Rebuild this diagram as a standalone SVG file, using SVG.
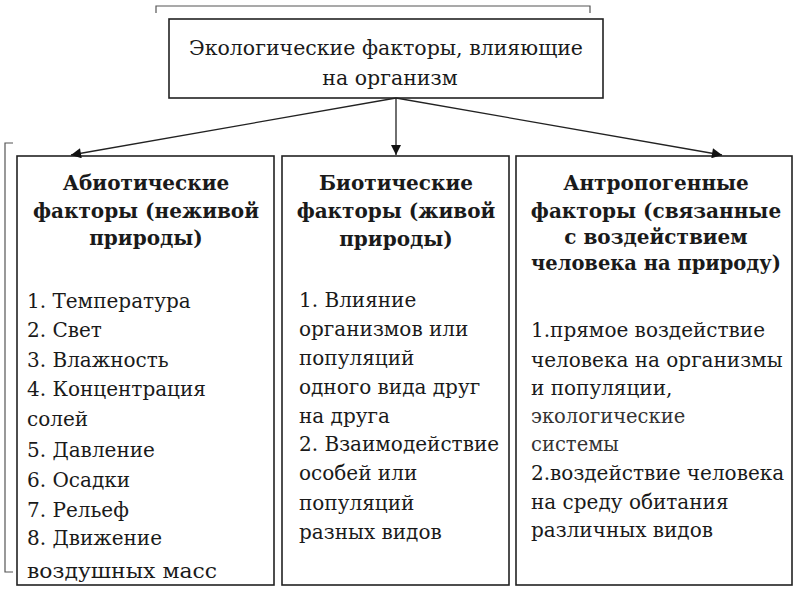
<svg xmlns="http://www.w3.org/2000/svg" width="800" height="600" viewBox="0 0 800 600">
<style>
  .box{fill:#fff;stroke:#222;stroke-width:1.6}
  .br{fill:none;stroke:#555;stroke-width:1.2}
  .ln{stroke:#222;stroke-width:1.3;fill:none}
  .f{font-family:"DejaVu Serif","Liberation Serif","Times New Roman",serif;fill:#1a1a1a}
  .t{font-size:20.5px;text-anchor:middle}
  .h{font-size:20px;font-weight:bold;text-anchor:middle}
  .i{font-size:20px}
  .s{font-size:19.5px;fill:#333}
</style>
<defs>
  <marker id="ah" viewBox="0 0 10 10" refX="10" refY="5" markerWidth="11" markerHeight="10" markerUnits="userSpaceOnUse" orient="auto">
    <path d="M0,0 L10,5 L0,10 z" fill="#111"/>
  </marker>
</defs>
<rect width="800" height="600" fill="#fff"/>
<g id="brackets">
  <path class="br" d="M156,13 V6 H590 V13"/>
  <path class="br" d="M13,143 H5 V572 H13"/>
</g>
<g class="f">
<g id="root">
  <rect class="box" x="169" y="19" width="434" height="79"/>
  <text class="t" x="386" y="55">Экологические факторы, влияющие</text>
  <text class="t" x="390" y="85">на организм</text>
</g>
<g id="abiotic">
  <rect class="box" x="17" y="156" width="257" height="429"/>
  <text class="h" x="146" y="190">Абиотические</text>
  <text class="h" x="146" y="218">факторы (неживой</text>
  <text class="h" x="146" y="245">природы)</text>
  <text class="i" x="27" y="308">1. Температура</text>
  <text class="i" x="27" y="337">2. Свет</text>
  <text class="i" x="27" y="367">3. Влажность</text>
  <text class="i" x="27" y="396">4. Концентрация</text>
  <text class="i" x="27" y="426">солей</text>
  <text class="i" x="27" y="457">5. Давление</text>
  <text class="i" x="27" y="487">6. Осадки</text>
  <text class="i" x="27" y="517">7. Рельеф</text>
  <text class="i" x="27" y="545">8. Движение</text>
  <text class="i" x="27" y="578" textLength="190" lengthAdjust="spacingAndGlyphs">воздушных масс</text>
</g>
<g id="biotic">
  <rect class="box" x="282" y="156" width="227" height="429"/>
  <text class="h" x="396" y="190">Биотические</text>
  <text class="h" x="396" y="218">факторы (живой</text>
  <text class="h" x="396" y="246">природы)</text>
  <text class="i" x="299" y="307">1. Влияние</text>
  <text class="i" x="299" y="336">организмов или</text>
  <text class="i" x="299" y="365">популяций</text>
  <text class="i" x="299" y="394">одного вида друг</text>
  <text class="i" x="299" y="423">на друга</text>
  <text class="i" x="299" y="451">2. Взаимодействие</text>
  <text class="i" x="299" y="480">особей или</text>
  <text class="i" x="299" y="510">популяций</text>
  <text class="i" x="299" y="539">разных видов</text>
</g>
<g id="anthropogenic">
  <rect class="box" x="516" y="156" width="276" height="429"/>
  <text class="h" x="656" y="190">Антропогенные</text>
  <text class="h" x="656" y="218">факторы (связанные</text>
  <text class="h" x="656" y="244">с воздействием</text>
  <text class="h" x="656" y="270" textLength="250" lengthAdjust="spacingAndGlyphs">человека на природу)</text>
  <text class="i" x="531" y="337">1.прямое воздействие</text>
  <text class="i" x="531" y="367">человека на организмы</text>
  <text class="i" x="531" y="395">и популяции,</text>
  <text class="s" x="531" y="423">экологические</text>
  <text class="s" x="531" y="451">системы</text>
  <text class="i" x="531" y="480">2.воздействие человека</text>
  <text class="i" x="531" y="509">на среду обитания</text>
  <text class="i" x="531" y="537">различных видов</text>
</g>
</g>
<g id="connectors">
  <line class="ln" x1="396" y1="98" x2="71" y2="155" marker-end="url(#ah)"/>
  <line class="ln" x1="396" y1="98" x2="396" y2="155" marker-end="url(#ah)"/>
  <line class="ln" x1="396" y1="98" x2="722" y2="155" marker-end="url(#ah)"/>
</g>
</svg>
